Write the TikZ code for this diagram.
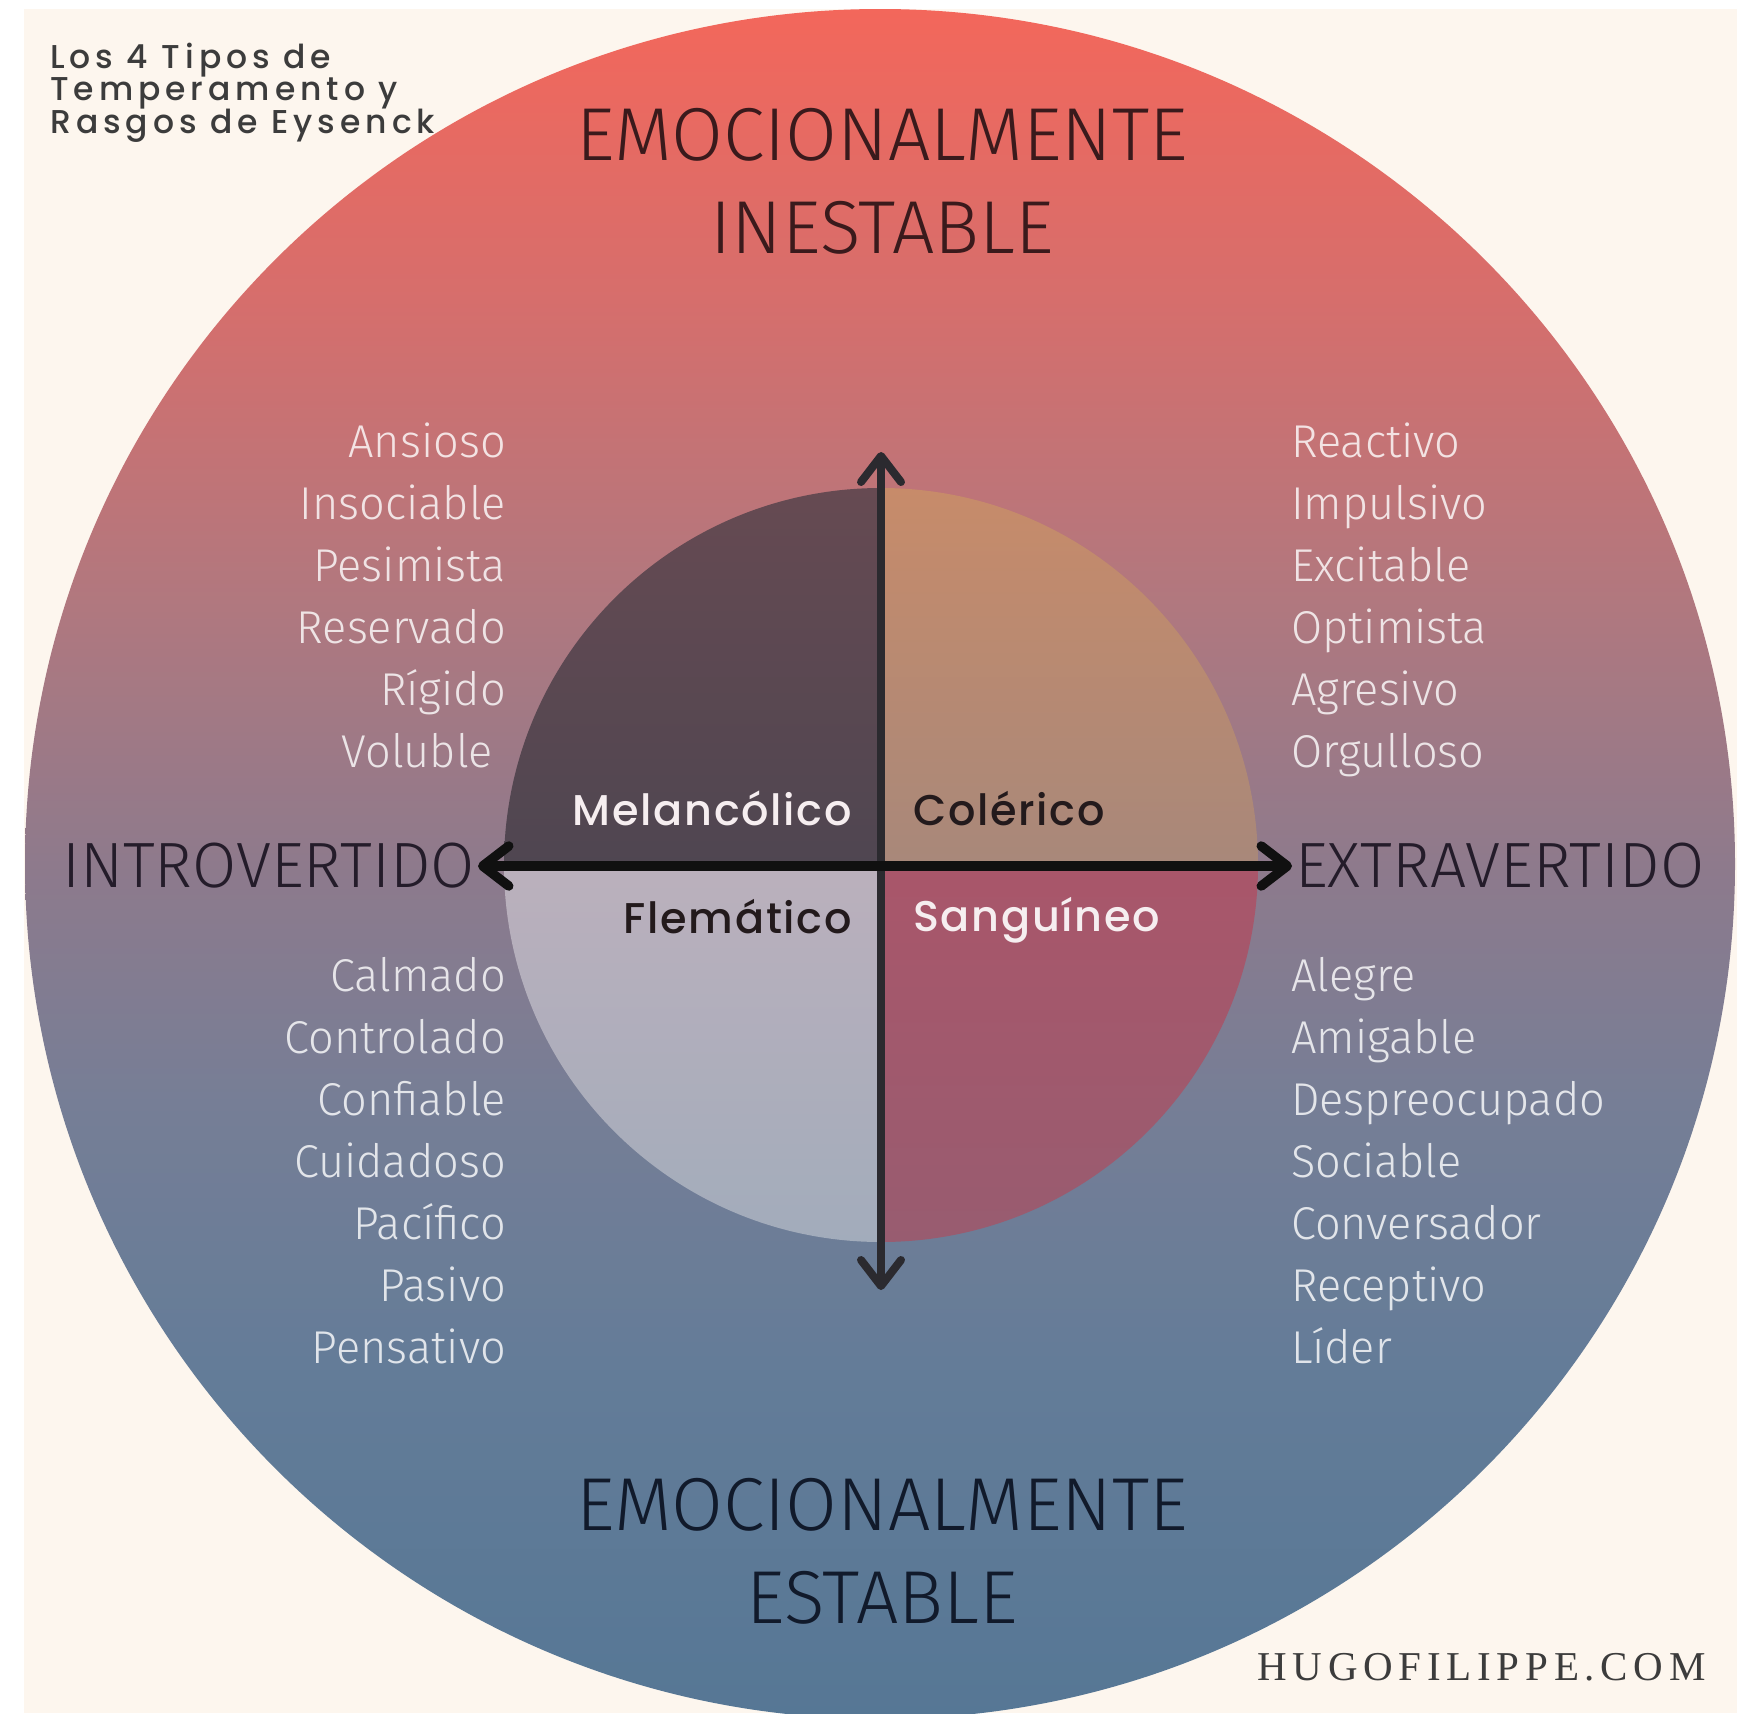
\documentclass[tikz,border=0pt]{standalone}
\usepackage{fontspec}
\setmainfont{Fira Sans}
\newfontfamily\thinf{Fira Sans}[UprightFont={* Light}]
\newfontfamily\traitf{Fira Sans}[UprightFont={* Light}, FakeStretch=0.98]
\newfontfamily\labf{Poppins}[UprightFont={* Medium}, LetterSpace=4]
\newfontfamily\titf{Poppins}[UprightFont={* Medium}, LetterSpace=15]
\newfontfamily\webf{Liberation Serif}[LetterSpace=14]
\usetikzlibrary{arrows.meta}

\definecolor{cream}{HTML}{FDF6EE}
\definecolor{g1}{HTML}{F3675B}
\definecolor{g2}{HTML}{D66E6C}
\definecolor{g3}{HTML}{B0787F}
\definecolor{g4}{HTML}{8E7A8C}
\definecolor{g5}{HTML}{767E96}
\definecolor{g6}{HTML}{637C98}
\definecolor{g7}{HTML}{567795}
\definecolor{mtop}{HTML}{664A52}
\definecolor{mbot}{HTML}{4F4651}
\definecolor{ctop}{HTML}{C78B6A}
\definecolor{cbot}{HTML}{A8887A}
\definecolor{ftop}{HTML}{BBB0BC}
\definecolor{fbot}{HTML}{A2ACBB}
\definecolor{stop}{HTML}{A9566A}
\definecolor{sbot}{HTML}{985C70}
\definecolor{axv}{HTML}{2B2A2F}
\definecolor{axh}{HTML}{101010}
\definecolor{toptxt}{HTML}{3A1A1C}
\definecolor{midtxt}{HTML}{241C2A}
\definecolor{bottxt}{HTML}{111A2B}
\definecolor{titletxt}{HTML}{3C3C3C}
\definecolor{darklab}{HTML}{231A1C}
\definecolor{lightlab}{HTML}{F6EEF0}

\pgfdeclareverticalshading{bigsh}{100bp}{color(0bp)=(g7); color(25bp)=(g7); color(35bp)=(g6); color(43bp)=(g5); color(50bp)=(g4); color(57.5bp)=(g3); color(66.5bp)=(g2); color(75bp)=(g1); color(100bp)=(g1)}

\tikzset{
  bigcap/.style={font=\thinf\fontsize{75}{75}\selectfont, inner sep=0, anchor=base},
  sidecap/.style={font=\thinf\fontsize{64}{64}\selectfont, inner sep=0, text=midtxt},
  trait/.style={font=\traitf\fontsize{46}{46}\selectfont, inner sep=0, text=white, text opacity=0.8},
  traitL/.style={trait, anchor=base east},
  traitR/.style={trait, anchor=base west},
  quad/.style={font=\labf\fontsize{43}{43}\selectfont, inner sep=0},
  titl/.style={font=\titf\fontsize{33}{33}\selectfont, inner sep=0, anchor=base west, text=titletxt},
  vaxis/.style={line width=8pt, draw=axv, arrows={Straight Barb[round,length=26pt,width=40pt]-Straight Barb[round,length=26pt,width=40pt]}},
  haxis/.style={line width=9.5pt, draw=axh, arrows={Straight Barb[round,length=26pt,width=40pt]-Straight Barb[round,length=26pt,width=40pt]}},
}

\begin{document}
\begin{tikzpicture}[x=1pt,y=-1pt]
\useasboundingbox (0,0) rectangle (1737,1713);
\fill[white] (0,0) rectangle (1737,1713);
\fill[cream] (24,9) rectangle (1737,1713);
\begin{scope}
\clip (0,0) rectangle (1737,1713);
\shade[shading=bigsh] (880,864) circle[radius=855];
\end{scope}

% quadrants
\shade[top color=mtop, bottom color=mbot] (881,865) -- (504,865) arc[start angle=180, end angle=270, radius=377] -- cycle;
\shade[top color=ctop, bottom color=cbot] (881,865) -- (881,488) arc[start angle=270, end angle=360, radius=377] -- cycle;
\shade[top color=stop, bottom color=sbot] (881,865) -- (1258,865) arc[start angle=0, end angle=90, radius=377] -- cycle;
\shade[top color=ftop, bottom color=fbot] (881,865) -- (881,1242) arc[start angle=90, end angle=180, radius=377] -- cycle;

% axes
\coordinate (N) at (881,452);
\coordinate (S) at (881,1290);
\coordinate (W) at (478,866);
\coordinate (E) at (1292,866);
\draw[vaxis] (S) -- (N);
\draw[haxis] (W) -- (E);

% title
\node[titl] (t1) at (50,68) {Los 4 Tipos de};
\node[titl] (t2) at (50,100) {Temperamento y};
\node[titl] (t3) at (50,133) {Rasgos de Eysenck};

% big captions
\node[bigcap, text=toptxt] (u1) at (882,160) {EMOCIONALMENTE};
\node[bigcap, text=toptxt] (u2) at (882,253) {INESTABLE};
\node[bigcap, text=bottxt] (d1) at (882,1530) {EMOCIONALMENTE};
\node[bigcap, text=bottxt] (d2) at (882,1623) {ESTABLE};
\node[sidecap, anchor=base east] (intro) at (475,887) {INTROVERTIDO};
\node[sidecap, anchor=base west] (extra) at (1295,887) {EXTRAVERTIDO};

% quadrant labels
\node[quad, anchor=base east, text=lightlab] (mel) at (852,825) {Melancólico};
\node[quad, anchor=base west, text=darklab] (col) at (913,825) {Colérico};
\node[quad, anchor=base east, text=darklab] (fle) at (852,933) {Flemático};
\node[quad, anchor=base west, text=lightlab] (san) at (913,931) {Sanguíneo};

% traits upper left
\node[traitL] (a1) at (506,457) {Ansioso};
\node[traitL] (a2) at (506,519) {Insociable};
\node[traitL] (a3) at (506,581) {Pesimista};
\node[traitL] (a4) at (506,643) {Reservado};
\node[traitL] (a5) at (506,705) {Rígido};
\node[traitL] (a6) at (493,767) {Voluble};
% traits lower left
\node[traitL] (b1) at (506,991) {Calmado};
\node[traitL] (b2) at (506,1053) {Controlado};
\node[traitL] (b3) at (506,1115) {Confiable};
\node[traitL] (b4) at (506,1177) {Cuidadoso};
\node[traitL] (b5) at (506,1239) {Pacífico};
\node[traitL] (b6) at (506,1301) {Pasivo};
\node[traitL] (b7) at (506,1363) {Pensativo};
% traits upper right
\node[traitR] (c1) at (1291,457) {Reactivo};
\node[traitR] (c2) at (1291,519) {Impulsivo};
\node[traitR] (c3) at (1291,581) {Excitable};
\node[traitR] (c4) at (1291,643) {Optimista};
\node[traitR] (c5) at (1291,705) {Agresivo};
\node[traitR] (c6) at (1291,767) {Orgulloso};
% traits lower right
\node[traitR] (e1) at (1291,991) {Alegre};
\node[traitR] (e2) at (1291,1053) {Amigable};
\node[traitR] (e3) at (1291,1115) {Despreocupado};
\node[traitR] (e4) at (1291,1177) {Sociable};
\node[traitR] (e5) at (1291,1239) {Conversador};
\node[traitR] (e6) at (1291,1301) {Receptivo};
\node[traitR] (e7) at (1291,1363) {Líder};

% site
\node[font=\webf\fontsize{41}{41}\selectfont, text=titletxt, inner sep=0, anchor=base east] (web) at (1706,1680) {HUGOFILIPPE.COM};
\end{tikzpicture}
\end{document}
